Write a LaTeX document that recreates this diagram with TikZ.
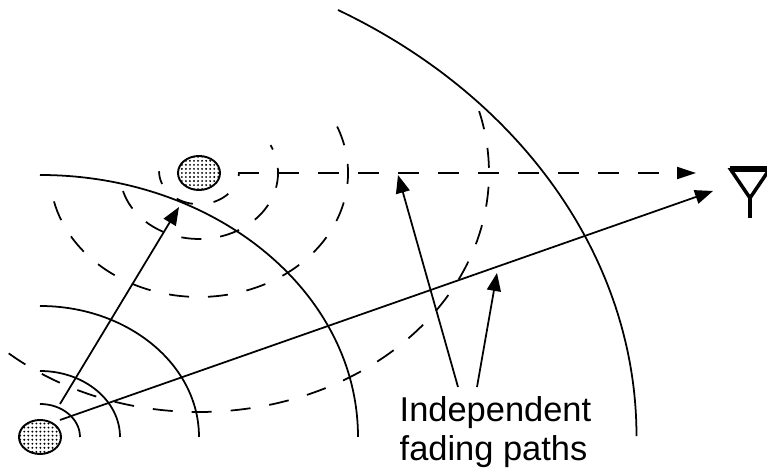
\documentclass[tikz,border=0pt]{standalone}
\usepackage{fontspec}
\setmainfont{Liberation Sans}
\usetikzlibrary{shapes.geometric,patterns.meta,arrows.meta}

\begin{document}
\begin{tikzpicture}[
    wave/.style={line width=0.5pt},
    dashwave/.style={line width=0.5pt, dash pattern=on 0.2cm off 0.19cm},
    path arrow/.style={line width=0.5pt, -{Triangle[length=0.18cm,width=0.14cm]}},
    scatterer/.style={draw, line width=0.55pt, ellipse, inner sep=0pt, minimum width=0.42cm, minimum height=0.34cm,
        pattern={Dots[distance=1.15pt,radius=0.3pt]}}
]
    \useasboundingbox (0,0) rectangle (7.67,4.68);
    \clip (0,0) rectangle (7.67,4.68);

    % Transmitter and relay
    \node[scatterer] (source) at (0.40,0.31) {};
    \node[scatterer] (relay) at (1.99,2.95) {};

    % Solid wave fronts
    \foreach \rx/\ry in {0.40/0.33, 0.80/0.66, 1.59/1.31, 3.18/2.62}
        \draw[wave] (0.40,0.31+\ry) arc[start angle=90, end angle=0, x radius=\rx, y radius=\ry];
    \draw[wave] (3.38,4.58) arc[start angle=60, end angle=0, x radius=5.97, y radius=4.92];

    % Dashed wave fronts
    \draw[wave, dash pattern=on 0.17cm off 0.21cm, dash phase=0.14cm] (1.99+0.40,2.95) arc[start angle=-3, end angle=-180, x radius=0.40, y radius=0.33];
    \draw[dashwave, dash phase=0.15cm] ({1.99+0.79*cos(25)},{2.95+0.66*sin(25)}) arc[start angle=25, end angle=-180, x radius=0.79, y radius=0.66];
    \draw[dashwave] ({1.99+1.49*cos(22)},{2.95+1.24*sin(22)}) arc[start angle=22, end angle=-167, x radius=1.49, y radius=1.24];
    \draw[dashwave] ({1.99+2.90*cos(-131)},{2.95+2.39*sin(-131)}) arc[start angle=-131, end angle=15, x radius=2.90, y radius=2.39];

    % Antenna
    \coordinate (antenna) at (7.50,2.70);
    \draw[line width=1.1pt] (7.50,2.50) -- (antenna);
    \draw[line width=1pt, line join=miter] (antenna) -- (7.31,2.98) -- (7.69,2.98) -- cycle;
    \fill (7.30,2.96) rectangle (7.70,3.02);

    % Label
    \node[align=left, anchor=north west, inner sep=0pt, font=\fontsize{9.8}{11}\selectfont] (label) at (3.99,0.72) {Independent\\fading paths};

    % Arrow ends
    \coordinate (a1) at (0.60,0.64);
    \coordinate (a2) at (1.79,2.61);
    \coordinate (b1) at (0.60,0.48);
    \coordinate (b2) at (7.13,2.77);
    \coordinate (c1) at (2.38,2.95);
    \coordinate (c2) at (6.96,2.95);
    \coordinate (d1) at (4.58,0.81);
    \coordinate (d2) at (3.98,2.93);
    \coordinate (e1) at (4.77,0.81);
    \coordinate (e2) at (4.97,1.95);

    % Arrows
    \draw[path arrow] (a1) -- (a2);
    \draw[path arrow] (b1) -- (b2);
    \draw[line width=0.55pt, dash pattern=on 0.21cm off 0.19cm, -{Triangle[length=0.19cm,width=0.12cm]}] (c1) -- (c2);
    \draw[path arrow] (d1) -- (d2);
    \draw[path arrow] (e1) -- (e2);
\end{tikzpicture}
\end{document}
